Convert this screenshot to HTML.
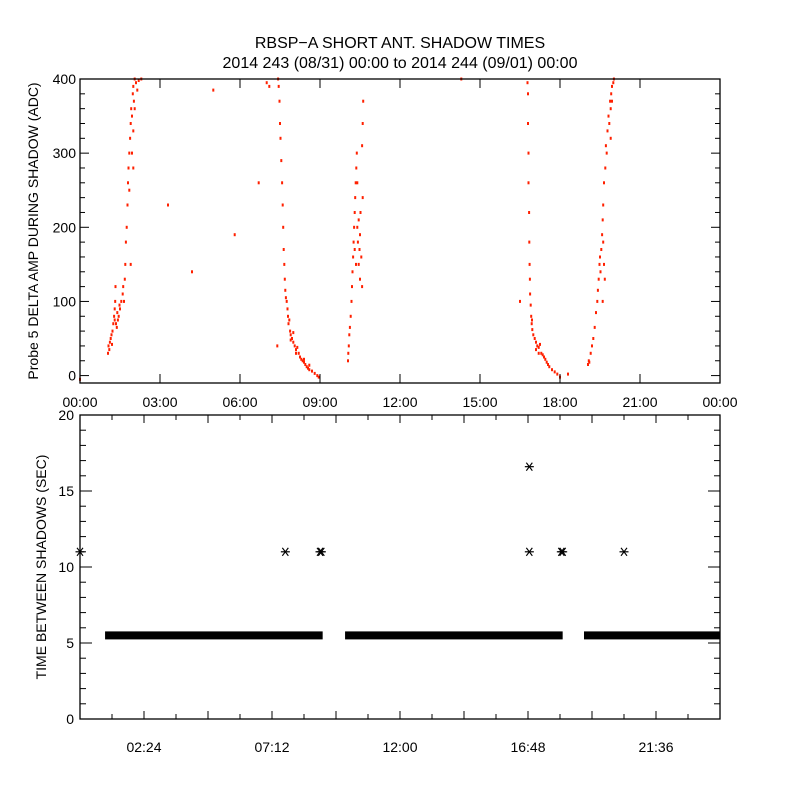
<!DOCTYPE html>
<html><head><meta charset="utf-8"><style>
html,body{margin:0;padding:0;background:#fff;}
svg text{font-family:"Liberation Sans",sans-serif;fill:#000;}
</style></head><body>
<svg id="chart" width="800" height="800" viewBox="0 0 800 800" xmlns="http://www.w3.org/2000/svg">
<rect x="0" y="0" width="800" height="800" fill="#fff"/>
<text x="400" y="48" font-size="16" text-anchor="middle">RBSP−A SHORT ANT. SHADOW TIMES</text>
<text x="400" y="68" font-size="16" text-anchor="middle">2014 243 (08/31) 00:00 to 2014 244 (09/01) 00:00</text>
<g id="topPanel"></g>
<g id="botPanel"></g>
</svg>
<script>
// ---- top panel data (hours, ADC) ----
const ampHours = [1.05,1.07,1.1,1.12,1.15,1.18,1.2,1.22,1.25,1.28,1.3,1.3,1.32,1.33,1.35,1.38,1.4,1.42,1.45,1.48,1.5,1.55,1.6,1.62,1.65,1.68,1.7,1.72,1.75,1.78,1.8,1.82,1.85,1.88,1.9,1.92,1.95,1.98,2.0,2.02,2.05,2.1,2.15,2.2,2.3,1.95,2.0,1.9,2.0,2.05,1.85,
7.43,7.45,7.48,7.5,7.52,7.55,7.58,7.6,7.62,7.64,7.66,7.68,7.7,7.72,7.75,7.78,7.8,7.82,7.85,7.88,7.9,7.95,8.0,8.05,8.1,8.15,8.2,8.25,8.3,8.35,8.4,8.45,8.5,8.55,8.6,8.7,8.8,8.9,8.95,7.9,8.0,8.1,8.4,8.6,
10.05,10.06,10.08,10.1,10.12,10.15,10.18,10.2,10.22,10.24,10.26,10.28,10.3,10.32,10.34,10.36,10.38,10.4,10.42,10.45,10.48,10.5,10.52,10.55,10.58,10.6,10.58,10.6,10.62,10.4,10.45,10.5,10.35,10.3,
16.78,16.8,16.8,16.82,16.82,16.84,16.85,16.86,16.87,16.88,16.9,16.92,16.94,16.96,17.0,17.05,17.1,17.15,17.2,17.25,17.3,17.35,17.4,17.45,17.5,17.55,17.6,17.7,17.8,17.9,18.0,17.1,17.2,16.95,
19.05,19.08,19.1,19.15,19.2,19.25,19.3,19.35,19.4,19.42,19.45,19.48,19.5,19.52,19.55,19.58,19.6,19.62,19.65,19.68,19.62,19.65,19.7,19.72,19.75,19.78,19.82,19.85,19.88,19.9,19.92,19.95,20.0,20.02,19.95,19.9,19.6,
3.3,4.2,5.0,5.8,6.7,7.0,7.1,7.4,14.3,16.5,18.3,0.0];
const ampValues = [30,40,35,45,50,55,42,60,70,80,75,90,100,120,70,65,85,75,80,95,90,100,110,120,100,130,150,180,200,230,260,280,300,320,340,360,350,380,390,370,400,395,385,398,400,300,280,150,330,360,250,
400,390,370,340,320,290,260,230,200,170,150,130,115,105,100,90,80,70,75,60,55,50,45,40,35,38,30,25,22,20,18,15,12,10,8,6,3,0,-2,48,58,30,22,14,
20,30,40,55,65,80,100,120,140,160,180,200,220,240,260,280,300,200,180,150,170,130,220,160,120,240,310,340,370,260,210,190,150,170,
395,380,340,300,260,220,180,150,130,110,95,80,70,62,55,50,45,40,38,42,30,28,25,22,18,15,12,8,5,2,-2,35,30,75,
15,20,18,30,40,50,65,85,100,115,130,150,160,140,170,190,210,180,150,130,230,260,280,310,300,330,350,340,370,360,380,390,395,400,370,320,100,
230,140,385,190,260,395,390,40,400,100,2,-5];
const topYTicks = [0,100,200,300,400];
const topXLabels = ["00:00","03:00","06:00","09:00","12:00","15:00","18:00","21:00","00:00"];
// ---- bottom panel data ----
const segStart = [0.94,9.94,18.9];
const segEnd = [9.1,18.1,24.0];
const segValue = [5.5,5.5,5.5];
const starHours = [0.0,7.7,9.0,9.05,16.85,16.85,18.05,18.1,20.4];
const starValues = [11,11,11,11,16.6,11,11,11,11];
const botYTicks = [0,5,10,15,20];
const botXLabels = ["02:24","07:12","12:00","16:48","21:36"];
const botXLabelHours = [2.4,7.2,12.0,16.8,21.6];

const NS="http://www.w3.org/2000/svg";
function mk(tag,attrs,parent){const e=document.createElementNS(NS,tag);for(const k in attrs)e.setAttribute(k,attrs[k]);parent.appendChild(e);return e;}
const L=80,R=720;
const xS=h=>L+(R-L)*h/24;
const T0=79,T1=383;
const yT=v=>T1-(T1-T0)*(v+10)/410;
const B0=415,B1=719;
const yB=v=>B1-(B1-B0)*v/20;

const topG=document.getElementById('topPanel');
const botG=document.getElementById('botPanel');

for(let i=0;i<ampHours.length;i++){
  const r=mk('rect',{x:(xS(ampHours[i])-1).toFixed(1),y:(yT(ampValues[i])-1.5).toFixed(1),width:2,height:3,fill:'#ff2000'},topG);
  
  
}
const f1=mk('rect',{x:L,y:T0,width:R-L,height:T1-T0,fill:'none',stroke:'#000','stroke-width':1.3},topG);


for(let v=0;v<=400;v+=20){
  const len=(v%100===0)?9:5;const y=yT(v);
  mk('line',{x1:L,x2:L+len,y1:y,y2:y,stroke:'#000'},topG);
  mk('line',{x1:R,x2:R-len,y1:y,y2:y,stroke:'#000'},topG);
}
topYTicks.forEach(v=>{
  const t=mk('text',{x:L-4,y:yT(v)+5,'font-size':14,'text-anchor':'end'},topG);t.textContent=v;
  
  
});
topXLabels.forEach((s,i)=>{
  const x=xS(i*3);
  mk('line',{x1:x,x2:x,y1:T1,y2:T1-9,stroke:'#000'},topG);
  mk('line',{x1:x,x2:x,y1:T0,y2:T0+9,stroke:'#000'},topG);
  const t=mk('text',{x:x,y:T1+24,'font-size':14,'text-anchor':'middle'},topG);t.textContent=s;
  
  
});
const yl=mk('text',{x:0,y:0,'font-size':14,'text-anchor':'middle',transform:`translate(38,${(T0+T1)/2}) rotate(-90)`},topG);
yl.textContent='Probe 5 DELTA AMP DURING SHADOW (ADC)';



for(let i=0;i<segStart.length;i++){
  const y=yB(segValue[i]);
  const r=mk('rect',{x:xS(segStart[i]),y:y-4,width:xS(segEnd[i])-xS(segStart[i]),height:8,fill:'#000'},botG);
  
  
}
for(let i=0;i<starHours.length;i++){
  const x=xS(starHours[i]),y=yB(starValues[i]);
  const g=mk('g',{stroke:'#000','stroke-width':1.2},botG);
  
  
  mk('line',{x1:x-4.5,x2:x+4.5,y1:y,y2:y},g);
  mk('line',{x1:x-3,x2:x+3,y1:y-4,y2:y+4},g);
  mk('line',{x1:x-3,x2:x+3,y1:y+4,y2:y-4},g);
}
const f2=mk('rect',{x:L,y:B0,width:R-L,height:B1-B0,fill:'none',stroke:'#000','stroke-width':1.3},botG);


for(let v=0;v<=20;v+=1){
  const len=(v%5===0)?12:6;const y=yB(v);
  mk('line',{x1:L,x2:L+len,y1:y,y2:y,stroke:'#000'},botG);
  mk('line',{x1:R,x2:R-len,y1:y,y2:y,stroke:'#000'},botG);
}
botYTicks.forEach(v=>{
  const t=mk('text',{x:L-6,y:yB(v)+5,'font-size':14,'text-anchor':'end'},botG);t.textContent=v;
  
  
});
for(let k=1;k<20;k++){
  const x=xS(k*1.2);const len=(k%2===0)?8:5;
  mk('line',{x1:x,x2:x,y1:B1,y2:B1-len,stroke:'#000'},botG);
  mk('line',{x1:x,x2:x,y1:B0,y2:B0+len,stroke:'#000'},botG);
}
botXLabels.forEach((s,i)=>{
  const t=mk('text',{x:xS(botXLabelHours[i]),y:B1+33,'font-size':14,'text-anchor':'middle'},botG);t.textContent=s;
  
  
});
const yl2=mk('text',{x:0,y:0,'font-size':14,'text-anchor':'middle',transform:`translate(46,${(B0+B1)/2}) rotate(-90)`},botG);
yl2.textContent='TIME BETWEEN SHADOWS (SEC)';


</script>
</body></html>
